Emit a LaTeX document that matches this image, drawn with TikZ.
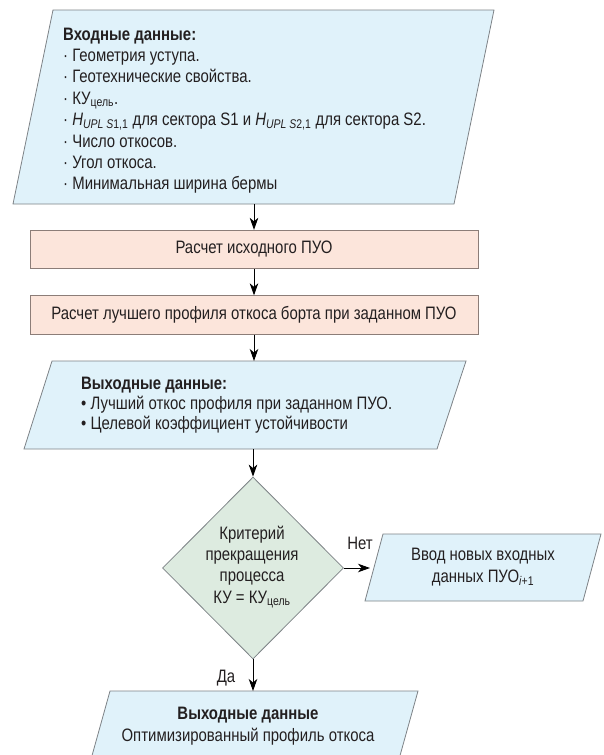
\documentclass[tikz,border=0pt]{standalone}
\usepackage{fontspec}
\setmainfont[FakeStretch=0.83]{Liberation Sans}
\usetikzlibrary{arrows.meta,shapes.geometric}
\definecolor{txt}{HTML}{231F20}
\definecolor{pblue}{HTML}{E0F2FA}
\definecolor{ppeach}{HTML}{FCE5DB}
\definecolor{pgreen}{HTML}{DDEBE0}
\definecolor{bgray}{HTML}{7D8286}
\definecolor{bbrown}{HTML}{8C7D78}
\begin{document}
\begin{tikzpicture}[x=1pt,y=-1pt,
  font=\fontsize{18}{21.4}\selectfont, text=txt,
  arr/.style={-{Stealth[length=12pt,width=8.5pt,inset=3.5pt]}, line width=0.9pt, draw=black},
  para/.style={draw=bgray, fill=pblue, line width=0.8pt},
  procbox/.style={draw=bbrown, fill=ppeach, line width=0.8pt, minimum width=448pt, minimum height=38.5pt, inner sep=0pt},
  decbox/.style={draw=bgray, fill=pgreen, line width=0.8pt, shape=diamond, minimum width=181pt, minimum height=182pt, inner sep=0pt},
  lbl/.style={inner sep=0pt},
  blk/.style={inner sep=0pt, align=left, anchor=north west}
]
\useasboundingbox (0,0) rectangle (603,755);

% input parallelogram
\draw[para] (53,10) -- (494,10) -- (454,204) -- (13,204) -- cycle;
\coordinate (inB) at (254,204);
\node[blk] (intext) at (63,27.5) {\textbf{Входные данные:}\\
· Геометрия уступа.\\
· Геотехнические свойства.\\
· КУ\textsubscript{цель}.\\
· \textit{H}\textsubscript{\textit{UPL S}1,1} для сектора S1 и \textit{H}\textsubscript{\textit{UPL S}2,1} для сектора S2.\\
· Число откосов.\\
· Угол откоса.\\
· Минимальная ширина бермы};

% process boxes
\node[procbox] (r1) at (254,249.5) {Расчет исходного ПУО};
\node[procbox] (r2) at (254,315) {Расчет лучшего профиля откоса борта при заданном ПУО};

% output parallelogram
\draw[para] (52,361) -- (466,361) -- (437,449) -- (24,449) -- cycle;
\coordinate (outT) at (254,361);
\coordinate (outB) at (253,449);
\node[blk] (outtext) at (81,376.5) {\textbf{Выходные данные:}\\[-1.4pt]
• Лучший откос профиля при заданном ПУО.\\[-1.4pt]
• Целевой коэффициент устойчивости};

% decision
\node[decbox] (dec) at (253,568) {};
\node[lbl, align=center] (dectext) at (252,567) {Критерий\\прекращения\\процесса\\КУ = КУ\textsubscript{цель}};

% new input
\draw[para] (383,534) -- (601,534) -- (583,601) -- (365,601) -- cycle;
\coordinate (newL) at (370,568);
\node[lbl, align=center] (newtext) at (483,567) {Ввод новых входных\\данных ПУО\textsubscript{\textit{i}+1}};

% final output
\draw[para] (110,691) -- (418,691) -- (396,770) -- (88,770) -- cycle;
\coordinate (finT) at (253,691);
\node[lbl, align=center] (fintext) at (248,726) {\textbf{Выходные данные}\\Оптимизированный профиль откоса};

% connectors
\draw[arr] (inB) -- (r1.north);
\draw[arr] (r1.south) -- (r2.north);
\draw[arr] (r2.south) -- (outT);
\draw[arr] (outB) -- (dec.north);
\draw[arr] (dec.east) -- (newL);
\draw[arr] (dec.south) -- (finT);

\node[lbl] (net) at (360,543) {Нет};
\node[lbl] (da) at (226,678) {Да};
\end{tikzpicture}
\end{document}
